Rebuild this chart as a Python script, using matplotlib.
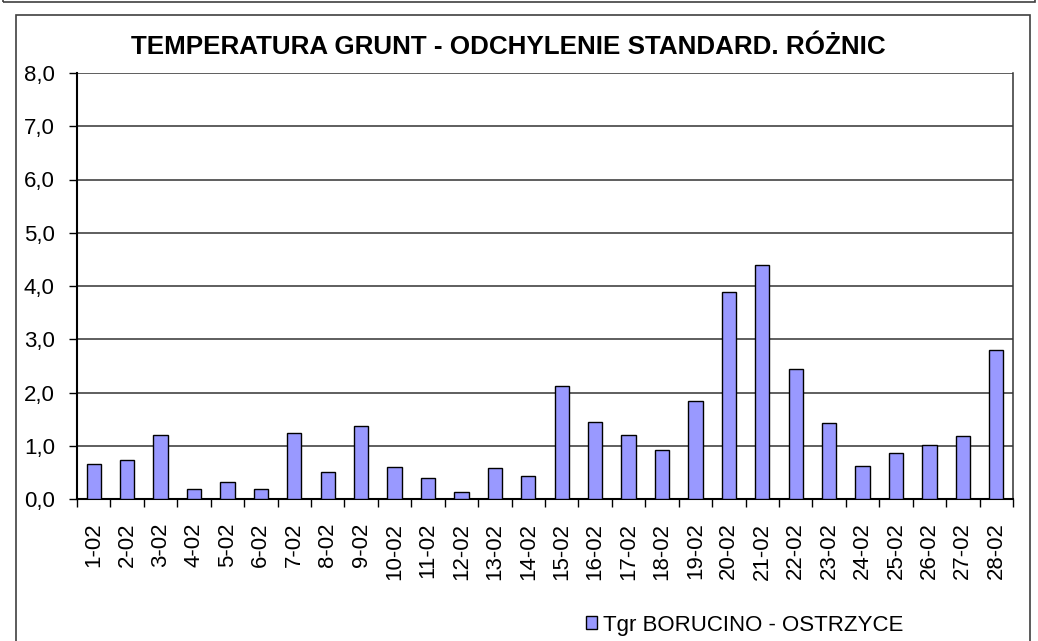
import matplotlib.pyplot as plt
from matplotlib.patches import Rectangle
from matplotlib.ticker import FixedLocator, FuncFormatter

plt.rcParams['font.family'] = ['Liberation Sans', 'DejaVu Sans']

# Data
days = ['%d-02' % d for d in range(1, 29)]
std_diff = [0.66, 0.73, 1.21, 0.18, 0.32, 0.18, 1.24, 0.50, 1.37, 0.61,
            0.39, 0.13, 0.58, 0.44, 2.13, 1.44, 1.21, 0.92, 1.84, 3.88,
            4.40, 2.45, 1.42, 0.62, 0.87, 1.02, 1.18, 2.80]
series_name = 'Tgr BORUCINO - OSTRZYCE'
title = 'TEMPERATURA GRUNT - ODCHYLENIE STANDARD. RÓŻNIC'

W, H = 1038, 641
fig = plt.figure(figsize=(W / 100, H / 100), dpi=100)
ax = fig.add_axes([77 / W, 1 - 499 / H, (1013 - 77) / W, (499 - 73) / H])

# outer frames (chart object borders)
fig.add_artist(Rectangle((3 / W, 1 - 2 / H), (1035 - 3) / W, 0.05,
                         transform=fig.transFigure, fill=False,
                         edgecolor='#404040', lw=1.2))
fig.add_artist(Rectangle((16 / W, -0.05), (1030 - 16) / W, 1 - 15 / H + 0.05,
                         transform=fig.transFigure, fill=False,
                         edgecolor='#404040', lw=1.2))

x = range(len(days))
ax.bar(x, std_diff, width=0.43, color='#9999FF', edgecolor='black',
       linewidth=1, label=series_name, zorder=3)

ax.set_xlim(-0.5, len(days) - 0.5)
ax.set_ylim(0, 8)
ax.set_yticks([i for i in range(9)])
ax.yaxis.set_major_formatter(FuncFormatter(lambda v, p: ('%.1f' % v).replace('.', ',')))
ax.grid(axis='y', color='#333333', lw=1.1, zorder=1)

ax.set_xticks(list(x))
ax.set_xticklabels(days, rotation=90)
ax.xaxis.set_minor_locator(FixedLocator([i - 0.5 for i in range(len(days) + 1)]))
ax.tick_params(axis='x', which='major', length=0, pad=17, labelsize=16)
ax.tick_params(axis='x', which='minor', length=6, width=1, color='black')
ax.tick_params(axis='y', length=6, width=1, pad=10, labelsize=16)

for s in ['left', 'bottom']:
    ax.spines[s].set_linewidth(1.5)
    ax.spines[s].set_color('black')
ax.spines['top'].set_visible(False)
ax.spines['right'].set_color('#333333')
ax.spines['right'].set_linewidth(1.1)

fig.text(508 / W, 1 - 47 / H, title, ha='center', va='center',
         fontsize=18.7, fontweight='bold')

fig.legend(loc='center left', bbox_to_anchor=(575 / W, 1 - 625 / H),
           frameon=False, fontsize=16, handlelength=0.5, handleheight=0.5,
           handletextpad=0.25, borderpad=0)

fig.savefig('out.png', dpi=100)
